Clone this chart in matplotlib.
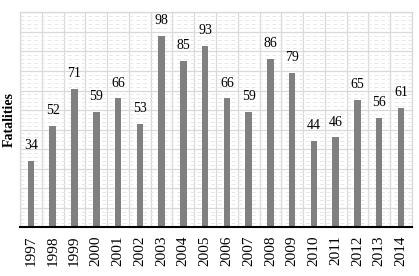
import numpy as np
import matplotlib.pyplot as plt
from matplotlib.ticker import MultipleLocator, FixedLocator

years = [str(y) for y in range(1997, 2015)]
fatalities = [34, 52, 71, 59, 66, 53, 98, 85, 93, 66, 59, 86, 79, 44, 46, 65, 56, 61]

plt.rcParams['font.family'] = ['Liberation Serif', 'DejaVu Serif']

fig = plt.figure(figsize=(4.19, 2.76), dpi=100)
ax = fig.add_axes([0.048, 0.177, 0.935, 0.778])

x = np.arange(len(years))
ax.bar(x, fatalities, width=0.3, color="#808080", zorder=3)

for xi, v in zip(x, fatalities):
    ax.text(xi, v + 4.5, str(v), ha="center", va="bottom", fontsize=10, color="black")

ax.set_xlim(-0.5, len(years) - 0.5)
ax.set_ylim(0, 110)

# grid: solid majors every 10, dashed minors every 2, vertical lines between categories
ax.yaxis.set_major_locator(MultipleLocator(10))
ax.yaxis.set_minor_locator(MultipleLocator(2))
ax.xaxis.set_minor_locator(FixedLocator(np.arange(-0.5, len(years), 1)))
ax.grid(which="major", axis="y", color="#d9d9d9", linewidth=0.9, zorder=0)
ax.grid(which="minor", axis="y", color="#e8e8e8", linewidth=0.7, linestyle=(0, (4, 3)), zorder=0)
ax.grid(which="minor", axis="x", color="#d9d9d9", linewidth=0.9, zorder=0)

ax.set_xticks(x)
ax.set_xticklabels(years, rotation=90, fontsize=11)
ax.tick_params(axis="x", which="both", length=0, pad=6)
ax.tick_params(axis="y", which="both", length=0, labelleft=False)

for side in ["left", "right", "top"]:
    ax.spines[side].set_color("#d9d9d9")
    ax.spines[side].set_linewidth(0.9)
ax.spines["bottom"].set_color("black")
ax.spines["bottom"].set_linewidth(1.5)
ax.spines["bottom"].set_zorder(4)

ax.set_ylabel("Fatalities", fontsize=10, fontweight="bold", labelpad=3)

plt.savefig("out.png", dpi=100)
